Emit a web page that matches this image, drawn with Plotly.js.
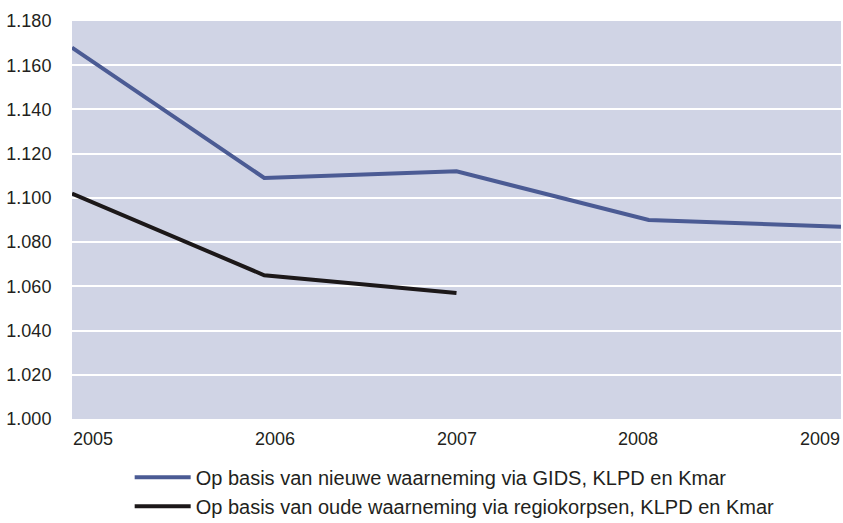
<!DOCTYPE html>
<html>
<head>
<meta charset="utf-8">
<script src="https://cdn.plot.ly/plotly-3.0.1.min.js"></script>
<style>html,body{margin:0;padding:0;background:#fff;}#chart{width:843px;height:523px;}</style>
</head>
<body>
<div id="chart"></div>
<script>
var years = [2005, 2006, 2007, 2008, 2009];
var yearLabels = ['2005', '2006', '2007', '2008', '2009'];
var nieuweName = 'Op basis van nieuwe waarneming via GIDS, KLPD en Kmar';
var nieuweValues = [1168, 1109, 1112, 1090, 1087];
var oudeName = 'Op basis van oude waarneming via regiokorpsen, KLPD en Kmar';
var oudeYears = [2005, 2006, 2007];
var oudeValues = [1102, 1065, 1057];
var yTicks = [1000, 1020, 1040, 1060, 1080, 1100, 1120, 1140, 1160, 1180];

var FONT = 'Liberation Sans, Arial, sans-serif';

var traces = [
  {x: years, y: nieuweValues, name: nieuweName, type: 'scatter', mode: 'lines',
   line: {color: '#4b5b94', width: 4}},
  {x: oudeYears, y: oudeValues, name: oudeName, type: 'scatter', mode: 'lines',
   line: {color: '#1c1819', width: 4}}
];

// year labels spread evenly so the outer ones sit inside the plot edges
var labelHalfWidth = 21;
var annotations = yearLabels.map(function (t, i) {
  var f = i / (yearLabels.length - 1);
  return {
    x: years[i], y: 0, xref: 'x', yref: 'paper', yanchor: 'top', yshift: -8,
    xanchor: 'center', xshift: labelHalfWidth * (1 - 2 * f),
    text: t, showarrow: false, font: {family: FONT, size: 18, color: '#231f20'}
  };
});

var layout = {
  width: 843, height: 523,
  margin: {l: 72, r: 2, t: 21, b: 104},
  paper_bgcolor: '#ffffff',
  plot_bgcolor: '#d0d4e5',
  separators: ',.',
  showlegend: true,
  legend: {
    orientation: 'v', x: 0.075, xanchor: 'left', xref: 'paper',
    y: 0.125, yanchor: 'top', yref: 'container',
    font: {family: FONT, size: 20, color: '#231f20'},
    bgcolor: 'rgba(0,0,0,0)', tracegroupgap: 0, itemwidth: 56
  },
  xaxis: {
    range: [2005, 2009], showgrid: false, zeroline: false,
    showticklabels: false, ticks: '', showline: false, fixedrange: true
  },
  yaxis: {
    range: [1000, 1180], tickvals: yTicks, tickformat: ',d',
    showgrid: true, gridcolor: '#ffffff', gridwidth: 2,
    zeroline: false, showline: false, ticks: 'outside', ticklen: 16, tickcolor: 'rgba(0,0,0,0)',
    tickfont: {family: FONT, size: 18, color: '#231f20'}, fixedrange: true
  },
  annotations: annotations
};

Plotly.newPlot('chart', traces, layout, {displayModeBar: false, staticPlot: true});
</script>
</body>
</html>
